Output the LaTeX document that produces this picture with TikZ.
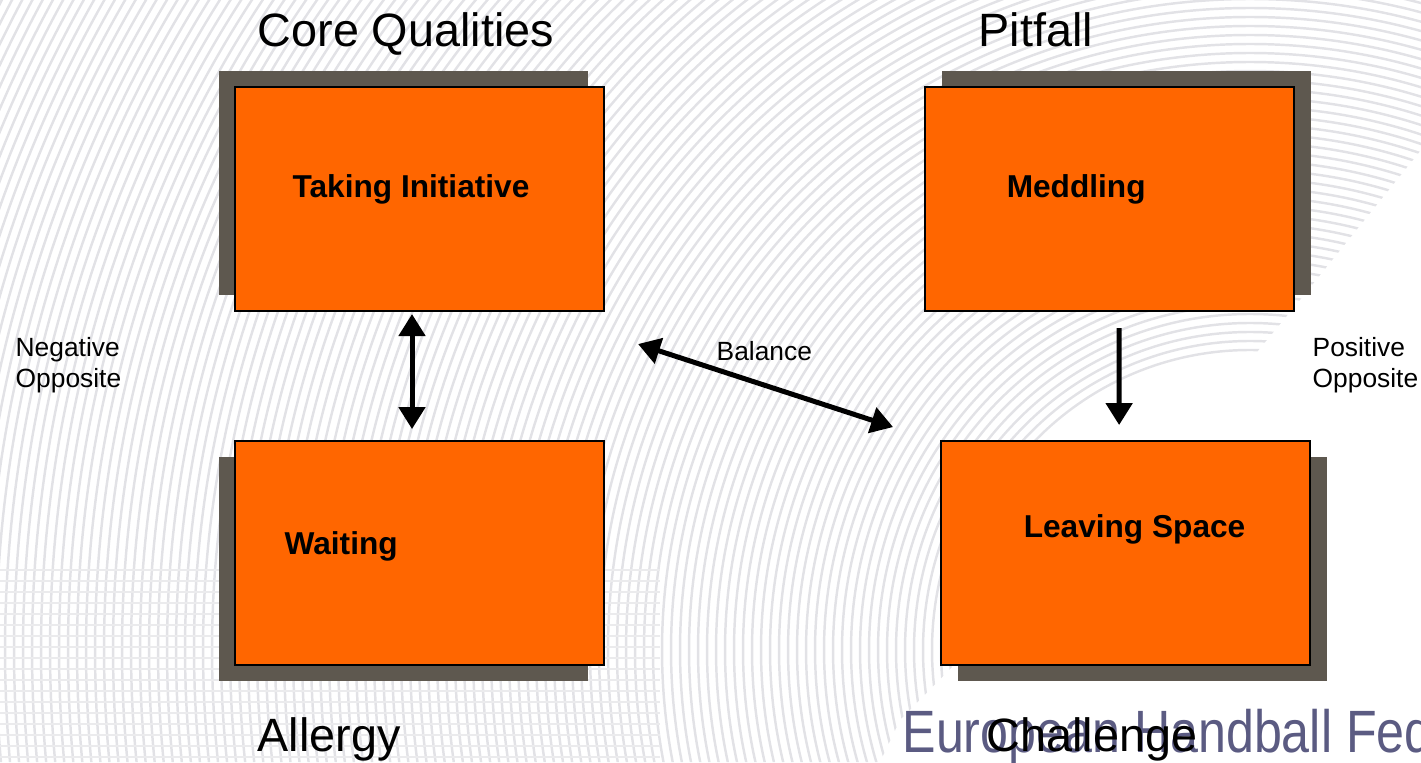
\documentclass[tikz,border=0pt]{standalone}
\usepackage{fontspec}
\setmainfont{Liberation Sans}
\usepackage{tikz}
\usetikzlibrary{
  arrows.meta,
  positioning,
  shadows
}
\definecolor{cqorange}{RGB}{255,102,0}
\definecolor{cqshadow}{RGB}{94,88,79}
\definecolor{cqback}{RGB}{226,226,230}
\definecolor{ehfblue}{RGB}{62,62,108}
\tikzset{
  cqBox/.style={
    rectangle,
    draw=black,
    fill=cqorange,
    line width=0.6pt,
    inner sep=0pt,
    minimum width=3.69cm,
    minimum height=2.24cm
  },
  cqShadow/.style 2 args={
    general shadow={
      fill=cqshadow,
      shadow xshift=#1,
      shadow yshift=#2
    }
  },
  cqText/.style={
    inner sep=0pt,
    anchor=base west,
    font=\fontsize{9}{11}\selectfont\bfseries
  },
  cqTitle/.style={
    inner sep=0pt,
    anchor=base west,
    font=\fontsize{13.3}{16}\selectfont
  },
  cqNote/.style={
    inner sep=0pt,
    align=left,
    font=\fontsize{7.5}{8.6}\selectfont
  },
  cqArrow/.style={
    -{Triangle[length=0.22cm, width=0.26cm]},
    line width=0.05cm,
    draw=black
  },
  cqBoth/.style={
    {Triangle[length=0.22cm, width=0.26cm]}-{Triangle[length=0.22cm, width=0.26cm]},
    line width=0.05cm,
    draw=black
  },
  bgLine/.style={
    draw=cqback,
    line width=0.7pt
  }
}

\begin{document}
\begin{tikzpicture}
  \useasboundingbox (0,0) rectangle (14.21,7.62);

  % faint ball pattern behind everything
  \begin{scope}
    \clip (0,0) -- (0,7.62) -- (14.21,7.62) -- (14.21,6.12)
      -- (13,4.62) -- (12.33,3.81) -- (9,0.42) -- (8.8,0) -- cycle;
    \foreach \r in {3,3.09,...,14.3}
      \draw[bgLine] (12.5,1.12) circle (\r);
    \foreach \y in {0.05,0.16,...,2.0}
      \draw[bgLine, draw=cqback!70] (0,\y) -- (6.6,\y);
  \end{scope}
  \node[inner sep=0pt, anchor=base west, text=ehfblue, opacity=0.85,
    xscale=0.84, font=\fontsize{17}{20}\selectfont]
    (ehf) at (9.02,0.1) {European Handball Federation};

  % the four quadrants
  \node[cqBox, cqShadow={-0.16cm}{0.16cm}] (init) at (4.195,5.63) {};
  \node[cqBox, cqShadow={0.17cm}{0.16cm}, right=3.19cm of init] (meddle) {};
  \node[cqBox, cqShadow={-0.16cm}{-0.16cm}, below=1.28cm of init] (wait) {};
  \node[cqBox, cqShadow={0.17cm}{-0.16cm}, right=3.35cm of wait] (leave) {};

  \node[cqText] (initText) at ([shift={(0.58,0.01)}]init.west) {Taking Initiative};
  \node[cqText] (meddleText) at ([shift={(0.82,0.01)}]meddle.west) {Meddling};
  \node[cqText] (waitText) at ([shift={(0.50,-0.01)}]wait.west) {Waiting};
  \node[cqText] (leaveText) at ([shift={(0.83,0.16)}]leave.west) {Leaving Space};

  \node[cqTitle] (core) at (2.57,7.15) {Core Qualities};
  \node[cqTitle] (pitfall) at (9.78,7.15) {Pitfall};
  \node[cqTitle] (allergy) at (2.57,0.11) {Allergy};
  \node[cqTitle] (challenge) at (9.86,0.11) {Challenge};

  \node[cqNote, anchor=north west] (negative) at (0.15,4.25) {Negative\\Opposite};
  \node[cqNote, anchor=north west] (positive) at (13.12,4.25) {Positive\\Opposite};
  \node[cqNote, anchor=base west] (balance) at (7.16,4.01) {Balance};

  \draw[cqBoth, shorten <=0.02cm, shorten >=0.11cm]
    ([xshift=-0.075cm]init.south) -- ([xshift=-0.075cm]wait.north);
  \draw[cqBoth]
    ([shift={(0.33,-0.32)}]init.south east) -- ([shift={(-0.47,0.13)}]leave.north west);
  \draw[cqArrow]
    ([shift={(0.095,-0.16)}]meddle.south) -- ([shift={(-0.065,0.15)}]leave.north);
\end{tikzpicture}
\end{document}
